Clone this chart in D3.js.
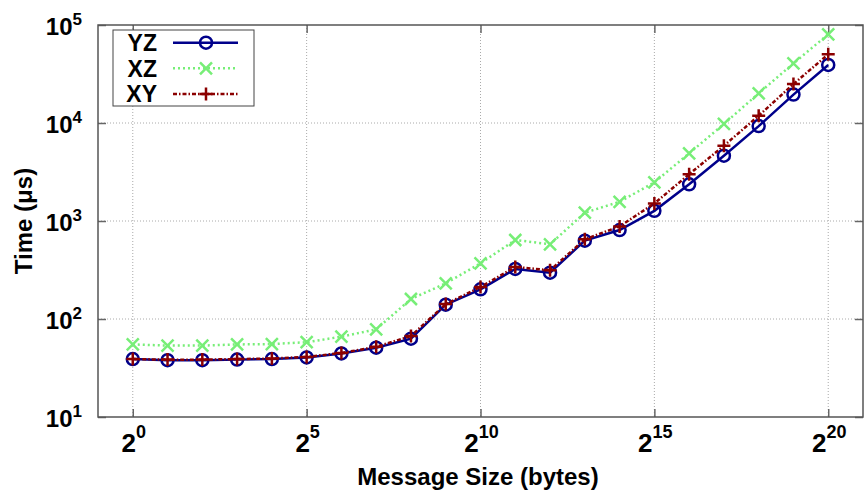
<!DOCTYPE html>
<html>
<head>
<meta charset="utf-8">
<script src="https://cdn.jsdelivr.net/npm/d3@7"></script>
<style>
  body { margin: 0; background: #fff; }
  svg { font-family: "Liberation Sans", Arial, sans-serif; font-weight: bold; }
</style>
</head>
<body>
<svg id="chart"></svg>
<script>
// message size exponents (2^n bytes)
let exponents = [0, 1, 2, 3, 4, 5, 6, 7, 8, 9, 10, 11, 12, 13, 14, 15, 16, 17, 18, 19, 20];

// time in microseconds
let yzTimes = [39, 38, 38, 38.5, 39, 40.5, 44.5, 51, 63, 140, 201, 324, 297, 630, 809, 1270, 2370, 4640, 9300, 19500, 39100];
let xzTimes = [55, 53.5, 53.5, 55, 55.5, 58, 66, 78.5, 160, 231, 370, 640, 578, 1216, 1570, 2480, 4900, 9770, 20100, 40600, 80400];
let xyTimes = [39, 38.5, 38.5, 39, 39.5, 41, 45, 52, 67, 142, 212, 340, 314, 650, 880, 1510, 3000, 5860, 11860, 25000, 50200];

let xTicks = [0, 5, 10, 15, 20];
let yTicks = [10, 100, 1000, 10000, 100000];

let width = 868,
    height = 493;

let plotLeft = 98, plotRight = 863, plotTop = 25, plotBottom = 417;

let svg = d3.select("svg#chart")
    .attr("width", width)
    .attr("height", height);

let x = d3.scaleLinear().domain([-1, 21]).range([plotLeft, plotRight]);
let y = d3.scaleLog().domain([10, 100000]).range([plotBottom, plotTop]);

// grid
let grid = svg.append("g").attr("stroke", "#aaa").attr("stroke-width", 1).attr("stroke-dasharray", "1,2");
grid.selectAll("line.gx")
    .data(xTicks)
    .enter().append("line")
    .attr("x1", d => x(d)).attr("x2", d => x(d))
    .attr("y1", plotTop).attr("y2", plotBottom);
grid.selectAll("line.gy")
    .data(yTicks.slice(1, -1))
    .enter().append("line")
    .attr("x1", plotLeft).attr("x2", plotRight)
    .attr("y1", d => y(d)).attr("y2", d => y(d));

// tick marks on all four sides, pointing inwards
function tickStyle(g) {
    g.select(".domain").remove();
    g.selectAll(".tick text").remove();
    g.selectAll(".tick line").attr("stroke", "#666").attr("stroke-width", 1.5);
}
svg.append("g").attr("transform", `translate(${plotLeft},0)`)
    .call(d3.axisLeft(y).tickValues(yTicks).tickSize(-8)).call(tickStyle);
svg.append("g").attr("transform", `translate(${plotRight},0)`)
    .call(d3.axisRight(y).tickValues(yTicks).tickSize(-8)).call(tickStyle);
svg.append("g").attr("transform", `translate(0,${plotBottom})`)
    .call(d3.axisBottom(x).tickValues(xTicks).tickSize(-8)).call(tickStyle);
svg.append("g").attr("transform", `translate(0,${plotTop})`)
    .call(d3.axisTop(x).tickValues(xTicks).tickSize(-8)).call(tickStyle);

// tick labels with superscripts
let yLabels = svg.append("g");
yTicks.forEach(function (v) {
    let t = yLabels.append("text")
        .attr("x", 82)
        .attr("y", y(v) + 10)
        .attr("text-anchor", "end")
        .attr("font-size", 24)
        .attr("fill", "#000");
    t.append("tspan").text("10");
    t.append("tspan").attr("font-size", 17).attr("dy", -10).text(Math.round(Math.log10(v)));
});

let xLabels = svg.append("g");
xTicks.forEach(function (v) {
    let t = xLabels.append("text")
        .attr("x", x(v) + 1)
        .attr("y", 452)
        .attr("text-anchor", "middle")
        .attr("font-size", 26)
        .attr("fill", "#000");
    t.append("tspan").text("2");
    t.append("tspan").attr("font-size", 18).attr("dy", -14).text(v);
});

// axis titles
svg.append("text")
    .attr("x", 478)
    .attr("y", 485)
    .attr("text-anchor", "middle")
    .attr("font-size", 24)
    .text("Message Size (bytes)");

svg.append("text")
    .attr("transform", "translate(32,221) rotate(-90)")
    .attr("text-anchor", "middle")
    .attr("font-size", 24)
    .text("Time (μs)");

// series
let series = [
    { name: "YZ", values: yzTimes, color: "#00008b", dash: null, width: 2.5, marker: "circle" },
    { name: "XZ", values: xzTimes, color: "#77ee77", dash: "2,3", width: 2.5, marker: "cross" },
    { name: "XY", values: xyTimes, color: "#8b0000", dash: "4,2,1.5,2", width: 2.5, marker: "plus" }
];

let line = d3.line()
    .x((d, i) => x(exponents[i]))
    .y(d => y(d));

function drawMarker(g, type, cx, cy, color) {
    if (type === "circle") {
        g.append("circle").attr("cx", cx).attr("cy", cy).attr("r", 6)
            .attr("fill", "none").attr("stroke", color).attr("stroke-width", 2.5);
    } else if (type === "cross") {
        g.append("path").attr("d", `M${cx - 6},${cy - 6}L${cx + 6},${cy + 6}M${cx - 6},${cy + 6}L${cx + 6},${cy - 6}`)
            .attr("stroke", color).attr("stroke-width", 2.5);
    } else {
        g.append("path").attr("d", `M${cx - 6.5},${cy}L${cx + 6.5},${cy}M${cx},${cy - 6.5}L${cx},${cy + 6.5}`)
            .attr("stroke", color).attr("stroke-width", 2.5);
    }
}

series.forEach(function (s) {
    let g = svg.append("g");
    g.append("path")
        .datum(s.values)
        .attr("fill", "none")
        .attr("stroke", s.color)
        .attr("stroke-width", s.width)
        .attr("stroke-dasharray", s.dash)
        .attr("d", line);
    s.values.forEach(function (v, i) {
        drawMarker(g, s.marker, x(exponents[i]), y(v), s.color);
    });
});

// border
svg.append("rect")
    .attr("x", plotLeft).attr("y", plotTop)
    .attr("width", plotRight - plotLeft).attr("height", plotBottom - plotTop)
    .attr("fill", "none").attr("stroke", "#555").attr("stroke-width", 1.5);

// legend
let legend = svg.append("g");
legend.append("rect")
    .attr("x", 113).attr("y", 30).attr("width", 141).attr("height", 76)
    .attr("fill", "#fff").attr("stroke", "#444").attr("stroke-width", 1);
series.forEach(function (s, i) {
    let cy = 42.7 + i * 25.6;
    legend.append("text")
        .attr("x", 157).attr("y", cy + 8.5)
        .attr("text-anchor", "end")
        .attr("font-size", 23)
        .text(s.name);
    legend.append("line")
        .attr("x1", 173).attr("x2", 238).attr("y1", cy).attr("y2", cy)
        .attr("stroke", s.color).attr("stroke-width", s.width)
        .attr("stroke-dasharray", s.dash);
    drawMarker(legend, s.marker, 206, cy, s.color);
});
</script>
</body>
</html>
